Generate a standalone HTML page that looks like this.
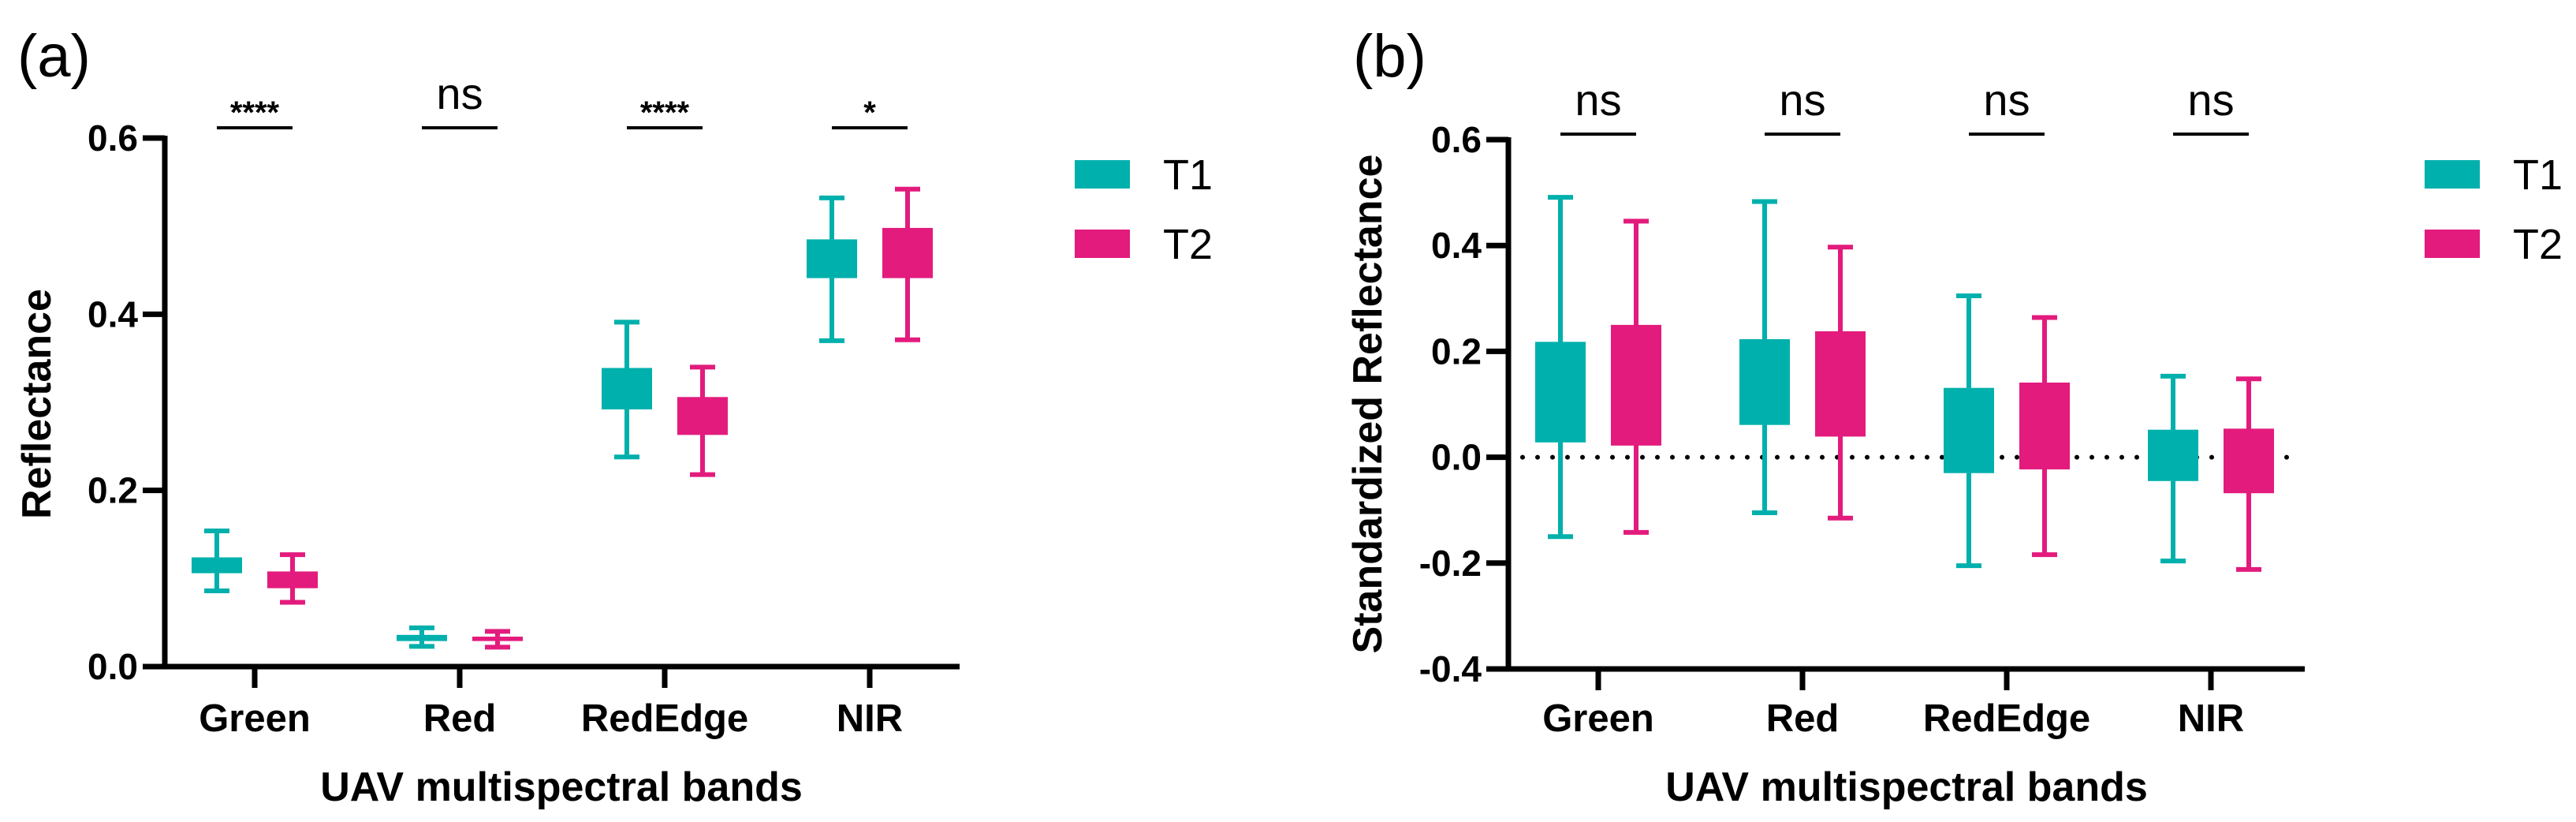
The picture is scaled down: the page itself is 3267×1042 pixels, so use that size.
<!DOCTYPE html>
<html><head><meta charset="utf-8"><style>
html,body{margin:0;padding:0;background:#fff;}
svg{display:block;font-family:"Liberation Sans",Arial,sans-serif;}
</style></head><body>
<svg id="chart" width="3267" height="1042" viewBox="0 0 3267 1042" xmlns="http://www.w3.org/2000/svg">
<text x="22" y="97" font-size="76">(a)</text>
<text x="1716" y="97" font-size="76">(b)</text>
<g id="pa"></g>
<g id="pb"></g>
</svg>
<script>
const categories = ["Green","Red","RedEdge","NIR"];
const seriesNames = ["T1","T2"];
// [whiskerMax, q3, q1, whiskerMin]
const aT1 = [[0.154,0.124,0.106,0.086],[0.044,0.036,0.029,0.023],[0.391,0.339,0.292,0.238],[0.532,0.485,0.441,0.370]];
const aT2 = [[0.127,0.108,0.089,0.073],[0.040,0.034,0.029,0.022],[0.340,0.306,0.263,0.218],[0.542,0.498,0.441,0.371]];
const bT1 = [[0.491,0.218,0.028,-0.150],[0.483,0.223,0.061,-0.105],[0.305,0.131,-0.030,-0.205],[0.153,0.052,-0.045,-0.196]];
const bT2 = [[0.446,0.250,0.022,-0.142],[0.397,0.238,0.039,-0.115],[0.264,0.141,-0.023,-0.184],[0.148,0.054,-0.068,-0.212]];
const aSig = ["****","ns","****","*"];
const bSig = ["ns","ns","ns","ns"];
const aTicks = [0.0,0.2,0.4,0.6];
const aTickLabels = ["0.0","0.2","0.4","0.6"];
const bTicks = [-0.4,-0.2,0.0,0.2,0.4,0.6];
const bTickLabels = ["-0.4","-0.2","0.0","0.2","0.4","0.6"];
const colors = ["#00b0ac","#e31b7d"];
const NS = "http://www.w3.org/2000/svg";
function mk(parent, tag, attrs, text){
  const e = document.createElementNS(NS, tag);
  for (const k in attrs) e.setAttribute(k, attrs[k]);
  if (text !== undefined) e.textContent = text;
  parent.appendChild(e);
  return e;
}
function panel(g, cfg){
  const yS = v => cfg.yBot - (v - cfg.vMin) / (cfg.vMax - cfg.vMin) * (cfg.yBot - cfg.yTop);
  const xS = i => cfg.x0 + cfg.catStart + i * cfg.catStep;
  let e = mk(g,'line',{x1:cfg.x0,y1:cfg.yTop-3,x2:cfg.x0,y2:cfg.yBot+3,stroke:'#000','stroke-width':7});
  
  
  e = mk(g,'line',{x1:cfg.x0-28,y1:cfg.yBot,x2:cfg.xEnd,y2:cfg.yBot,stroke:'#000','stroke-width':7});
  
  
  cfg.ticks.forEach((t,i)=>{
    const y = yS(t);
    const l = mk(g,'line',{x1:cfg.x0-28,y1:y,x2:cfg.x0,y2:y,stroke:'#000','stroke-width':7});
    
    
    const tx = mk(g,'text',{x:cfg.x0-34,y:y+16,'font-size':46,'font-weight':'bold','text-anchor':'end'},cfg.tickLabels[i]);
    
    
  });
  if (cfg.dotted){
    const d = mk(g,'line',{x1:cfg.x0+18,y1:yS(0),x2:cfg.xEnd-20,y2:yS(0),stroke:'#000','stroke-width':6,'stroke-dasharray':'0 19','stroke-linecap':'round'});
    
    
  }
  categories.forEach((c,i)=>{
    const x = xS(i);
    const tk = mk(g,'line',{x1:x,y1:cfg.yBot,x2:x,y2:cfg.yBot+27,stroke:'#000','stroke-width':7});
    
    
    const lb = mk(g,'text',{x:x,y:927,'font-size':49,'font-weight':'bold','text-anchor':'middle'},c);
    
    
    const sb = mk(g,'line',{x1:x-48,y1:cfg.sigY,x2:x+48,y2:cfg.sigY,stroke:'#000','stroke-width':4});
    
    
    const s = cfg.sig[i];
    const st = mk(g,'text',{x:x,y: s==='ns' ? cfg.sigY-24 : cfg.sigY-6,'font-size': s==='ns'?56:40,'font-weight': s==='ns'?'normal':'bold','text-anchor':'middle'},s);
    
    
    [cfg.s1, cfg.s2].forEach((ser,k)=>{
      const [wMax,q3,q1,wMin] = ser[i];
      const cx = x + (k===0?-48:48);
      const col = colors[k];
      const bg = mk(g,'g',{});
      
      
      mk(bg,'line',{x1:cx,y1:yS(wMax),x2:cx,y2:yS(wMin),stroke:col,'stroke-width':6});
      mk(bg,'line',{x1:cx-16,y1:yS(wMax),x2:cx+16,y2:yS(wMax),stroke:col,'stroke-width':6});
      mk(bg,'line',{x1:cx-16,y1:yS(wMin),x2:cx+16,y2:yS(wMin),stroke:col,'stroke-width':6});
      mk(bg,'rect',{x:cx-32,y:yS(q3),width:64,height:Math.max(yS(q1)-yS(q3),4),fill:col});
    });
  });
  const xt = mk(g,'text',{x:cfg.xTitle,y:1015,'font-size':52,'font-weight':'bold','text-anchor':'middle'},'UAV multispectral bands');
  
  
  const yt = mk(g,'text',{x:0,y:0,'font-size':52,'font-weight':'bold','text-anchor':'middle',transform:'translate('+cfg.yTitleX+','+cfg.yTitleY+') rotate(-90)'},cfg.yTitle);
  
  
  seriesNames.forEach((n,k)=>{
    const ly = cfg.legY + k*88;
    const lg = mk(g,'g',{});
    
    
    mk(lg,'rect',{x:cfg.legX,y:ly,width:70,height:36,fill:colors[k]});
    mk(lg,'text',{x:cfg.legX+112,y:ly+37,'font-size':54},n);
  });
}
panel(document.getElementById('pa'),{x0:209,xEnd:1217,yTop:175,yBot:845,vMin:0,vMax:0.6,catStart:114,catStep:260,
  ticks:aTicks,tickLabels:aTickLabels,s1:aT1,s2:aT2,sig:aSig,sigY:162,dotted:false,
  xTitle:712,yTitle:'Reflectance',yTitleX:64,yTitleY:512,legX:1363,legY:203});
panel(document.getElementById('pb'),{x0:1913,xEnd:2923,yTop:177,yBot:848,vMin:-0.4,vMax:0.6,catStart:114,catStep:259,
  ticks:bTicks,tickLabels:bTickLabels,s1:bT1,s2:bT2,sig:bSig,sigY:170,dotted:true,
  xTitle:2418,yTitle:'Standardized Reflectance',yTitleX:1752,yTitleY:512,legX:3075,legY:203});
</script>
</body></html>
